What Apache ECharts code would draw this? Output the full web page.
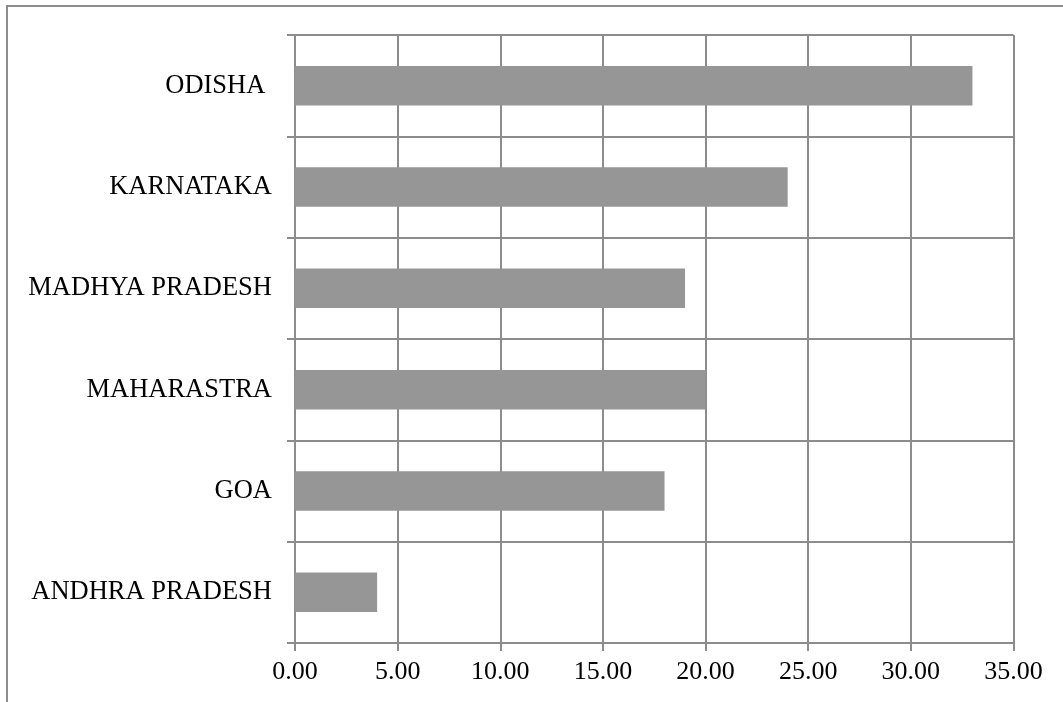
<!DOCTYPE html>
<html>
<head>
<meta charset="utf-8">
<script src="https://cdn.jsdelivr.net/npm/echarts@6/dist/echarts.min.js"></script>
<style>
  html, body { margin: 0; padding: 0; background: #fff; }
  #chart { width: 1063px; height: 702px; }
</style>
</head>
<body>
<div id="chart"></div>
<script>
// States listed bottom to top along the category axis
const states = ['ANDHRA PRADESH', 'GOA', 'MAHARASTRA', 'MADHYA PRADESH', 'KARNATAKA', 'ODISHA '];
const values = [4, 18, 20, 19, 24, 33];
const axisMin = 0;
const axisMax = 35;
const axisStep = 5;

const lineColor = '#8c8c8c';
const font = '"Liberation Serif", "Times New Roman", serif';

const chart = echarts.init(document.getElementById('chart'), null, { renderer: 'canvas' });

chart.setOption({
  animation: false,
  backgroundColor: '#ffffff',
  graphic: [{
    type: 'rect',
    shape: { x: 7, y: 6, width: 1200, height: 900 },
    style: { fill: 'none', stroke: lineColor, lineWidth: 2 },
    silent: true
  }],
  grid: { left: 295, right: 49.5, top: 35, bottom: 59, containLabel: false },
  xAxis: {
    type: 'value',
    min: axisMin,
    max: axisMax,
    interval: axisStep,
    axisLine: { show: true, lineStyle: { color: lineColor, width: 2 } },
    axisTick: { show: true, length: 8, lineStyle: { color: lineColor, width: 2 } },
    splitLine: { show: true, lineStyle: { color: lineColor, width: 2 } },
    axisLabel: {
      color: '#000',
      fontFamily: font,
      fontSize: 26,
      margin: 16,
      formatter: v => v.toFixed(2)
    }
  },
  yAxis: {
    type: 'category',
    data: states,
    boundaryGap: true,
    axisLine: { show: true, lineStyle: { color: lineColor, width: 2 } },
    axisTick: { show: true, length: 8, interval: 0, lineStyle: { color: lineColor, width: 2 } },
    splitLine: { show: true, interval: 0, lineStyle: { color: lineColor, width: 2 } },
    axisLabel: {
      color: '#000',
      fontFamily: font,
      fontSize: 26.5,
      margin: 23,
      interval: 0
    }
  },
  series: [{
    type: 'bar',
    data: values,
    barWidth: '39%',
    itemStyle: { color: '#969696' }
  }]
});
</script>
</body>
</html>
